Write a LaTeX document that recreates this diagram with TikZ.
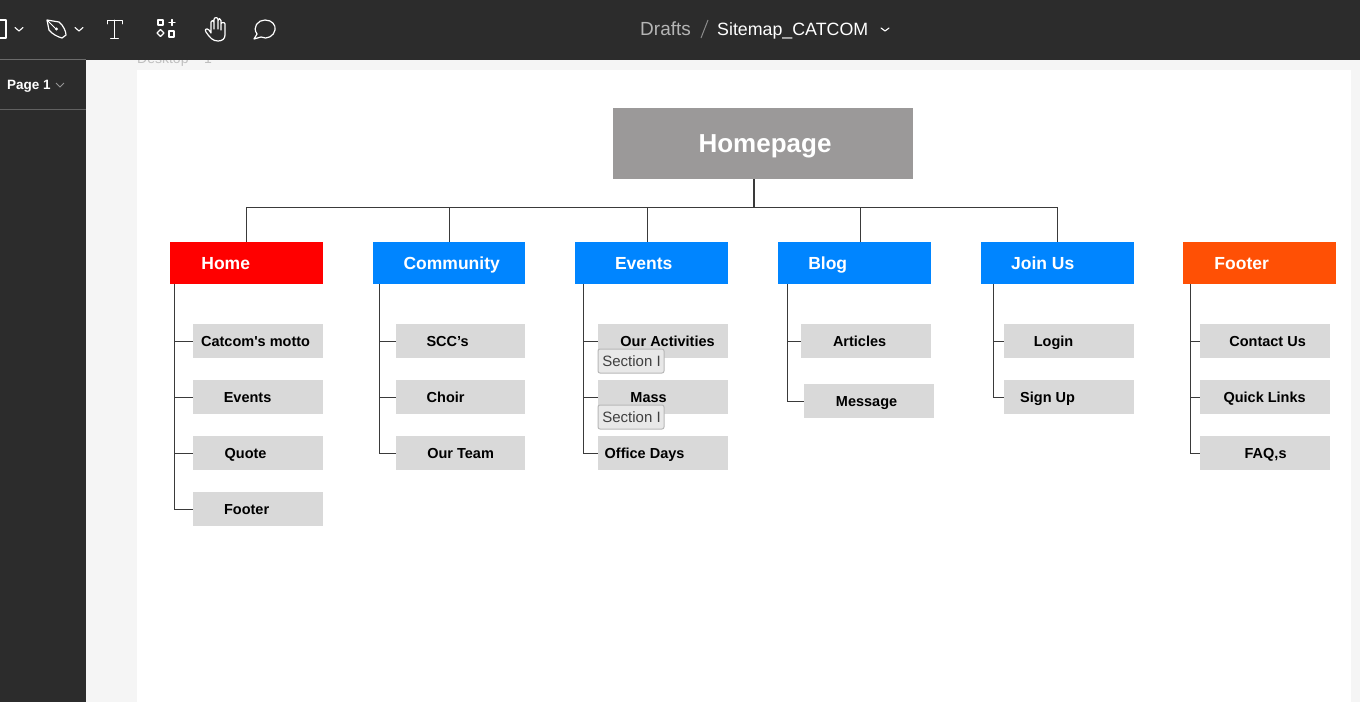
\documentclass[tikz,border=0pt]{standalone}
\usepackage{fontspec}
\setmainfont{Liberation Sans}
\newfontfamily\plainq{Liberation Sans}
\definecolor{chrome}{HTML}{2C2C2C}
\definecolor{canvas}{HTML}{F5F5F5}
\definecolor{topbox}{HTML}{9B9999}
\definecolor{navblue}{HTML}{0085FF}
\definecolor{navred}{HTML}{FF0000}
\definecolor{navorange}{HTML}{FF5005}
\definecolor{subgray}{HTML}{D9D9D9}
\definecolor{chipgray}{HTML}{E8E8E8}
\definecolor{wire}{HTML}{3A3A3A}
\tikzset{
  x=1pt,y=-1pt,
  plainbox/.style={rectangle,inner sep=0pt,outer sep=0pt,draw=none},
  toptext/.style={text=white,font=\fontsize{26}{30}\selectfont\bfseries,inner sep=0pt,yshift=-3pt},
  navtext/.style={text=white,font=\fontsize{17.5}{21}\selectfont\bfseries,inner sep=0pt,yshift=-2pt,xshift=0.7pt},
  subtext/.style={text=black,font=\fontsize{14.5}{18}\selectfont\bfseries,inner sep=0pt,yshift=-1.7pt,xshift=0.6pt},
  chip/.style={rectangle,rounded corners=2pt,draw=black!28,line width=1pt,fill=chipgray,minimum width=66pt,minimum height=24pt,inner sep=0pt,outer sep=0pt},
  chiptext/.style={text=black!75,font=\fontsize{15}{18}\selectfont,inner sep=0pt,yshift=-2pt,xshift=0.5pt},
  wireline/.style={draw=wire,line width=0.8pt},
  icon/.style={draw=white,line width=1.2pt,line join=round,line cap=round},
  uitext/.style={inner sep=0pt,anchor=base west},
}
% name, x1, y1, x2, y2, fill, text style, text x, text
\newcommand{\bx}[9]{%
  \pgfmathsetmacro{\bw}{#4-#2}\pgfmathsetmacro{\bh}{#5-#3}%
  \node[plainbox,fill=#6,minimum width=\bw pt,minimum height=\bh pt] (#1) at ({(#2+#4)/2},{(#3+#5)/2}) {};
  \node[#7] (#1-t) at (#8,{(#3+#5)/2}) {\strut #9};
}
\begin{document}
\begin{tikzpicture}
\useasboundingbox (0,0) rectangle (1360,702);
\fill[canvas] (0,0) rectangle (1360,702);
\fill[white] (137,70) rectangle (1351,702);
\node[uitext,text=black!25,font=\fontsize{14}{16}\selectfont] (desk) at (137,63.5) {Desktop – 1};
% chrome
\fill[chrome] (0,0) rectangle (1360,60);
\fill[chrome] (0,60) rectangle (86,702);
\draw[white!30!chrome,line width=0.7pt] (0,59.7) -- (86,59.7);
\draw[white!25!chrome,line width=0.7pt] (0,109.5) -- (86,109.5);
% toolbar icons
\draw[icon] (-3,20) -- (6,20) -- (6,38) -- (-3,38);
\draw[icon,line width=1.1pt] (15,27.5) -- (19,31) -- (23,27.5);
\draw[icon] (47,20) -- (59,22) .. controls (64,26) and (66,32) .. (66,35) -- (62,38) .. controls (58,37) and (52,34) .. (49,30) -- cycle;
\draw[icon,line width=1pt] (48,21) -- (56,29);
\fill[white] (56.5,29) circle (1.7);
\draw[icon,line width=1.1pt] (75,27.5) -- (79,31) -- (83,27.5);
\draw[icon,line width=0.9pt] (107,24) -- (107,20) -- (122,20) -- (122,24) (114.5,20) -- (114.5,38) (110.5,38) -- (118.5,38);
\draw[icon,line width=1.1pt] (158,20) rectangle (163,25) (172,19.5) -- (172,25.5) (169,22.5) -- (175,22.5) (169,31) rectangle (174,37);
\draw[icon,line width=1.1pt] (157,33) -- (160.5,29.5) -- (164,33) -- (160.5,36.5) -- cycle;
\draw[icon] (206,32) .. controls (204,29) and (207,28) .. (209,30) -- (211,33) -- (211,22) .. controls (211,20) and (214,20) .. (214,22) -- (214,29) -- (214,19.5) .. controls (214,17) and (218,17) .. (218,19.5) -- (218,29) -- (218,20.5) .. controls (218,18) and (221,18) .. (221,20.5) -- (221,30) -- (221,24) .. controls (221,22) and (225,22) .. (225,24) -- (225,35) .. controls (225,39) and (222,41) .. (218,41) .. controls (213,41) and (210,38) .. (206,32) -- cycle;
\draw[icon] (254,39) -- (257,34) .. controls (252,27) and (258,20) .. (265,20) .. controls (272,20) and (276,25) .. (275,30) .. controls (274,36) and (267,40) .. (261,37) -- (254,39) -- cycle;
% header text
\node[uitext,text=white!65!chrome,font=\fontsize{19}{22}\selectfont] (drafts) at (640,35) {Drafts};
\draw[white!45!chrome,line width=1pt] (701,38) -- (708,20);
\node[uitext,text=white,font=\fontsize{17.8}{22}\selectfont] (title) at (717,35) {Sitemap\_CATCOM};
\draw[icon,line width=1.1pt] (881,28) -- (885,31) -- (889,28);
\node[uitext,text=white,font=\fontsize{13.5}{17}\selectfont\bfseries] (page) at (7,89) {Page 1};
\draw[white!50!chrome,line width=0.8pt] (56,83) -- (60,87) -- (64,83);
% top
\bx{hp}{613}{108}{913}{179}{topbox}{toptext}{765}{Homepage}
% nav
\bx{home}{170}{242}{323}{284}{navred}{navtext}{225}{Home}
\bx{comm}{373}{242}{525}{284}{navblue}{navtext}{451}{Community}
\bx{evts}{575}{242}{728}{284}{navblue}{navtext}{643}{Events}
\bx{blog}{778}{242}{931}{284}{navblue}{navtext}{827}{Blog}
\bx{join}{981}{242}{1134}{284}{navblue}{navtext}{1042}{Join Us}
\bx{foot}{1183}{242}{1336}{284}{navorange}{navtext}{1241}{Footer}
% subs
\bx{h1}{193}{324}{323}{358}{subgray}{subtext}{255}{Catcom{\plainq'}s motto}
\bx{h2}{193}{380}{323}{414}{subgray}{subtext}{247}{Events}
\bx{h3}{193}{436}{323}{470}{subgray}{subtext}{245}{Quote}
\bx{h4}{193}{492}{323}{526}{subgray}{subtext}{246}{Footer}
\bx{c1}{396}{324}{525}{358}{subgray}{subtext}{447}{SCC’s}
\bx{c2}{396}{380}{525}{414}{subgray}{subtext}{445}{Choir}
\bx{c3}{396}{436}{525}{470}{subgray}{subtext}{460}{Our Team}
\bx{e1}{598}{324}{728}{358}{subgray}{subtext}{667}{Our Activities}
\bx{e2}{598}{380}{728}{414}{subgray}{subtext}{648}{Mass}
\bx{e3}{598}{436}{728}{470}{subgray}{subtext}{644}{Office Days}
\bx{b1}{801}{324}{931}{358}{subgray}{subtext}{859}{Articles}
\bx{b2}{804}{384}{934}{418}{subgray}{subtext}{866}{Message}
\bx{j1}{1004}{324}{1134}{358}{subgray}{subtext}{1053}{Login}
\bx{j2}{1004}{380}{1134}{414}{subgray}{subtext}{1047}{Sign Up}
\bx{f1}{1200}{324}{1330}{358}{subgray}{subtext}{1267}{Contact Us}
\bx{f2}{1200}{380}{1330}{414}{subgray}{subtext}{1264}{Quick Links}
\bx{f3}{1200}{436}{1330}{470}{subgray}{subtext}{1265}{FAQ,s}
% chips
\node[chip] (s1) at (631,361) {};
\node[chiptext] (s1-t) at (631,361) {\strut Section I};
\node[chip] (s2) at (631,417) {};
\node[chiptext] (s2-t) at (631,417) {\strut Section I};
% connectors
\coordinate (hub) at (754,207);
\draw[wireline,line width=1.3pt] ([xshift=-9pt]hp.south) -- (hub);
\draw[wireline] (hub) -| (home.north);
\draw[wireline] (hub) -| (comm.north);
\draw[wireline] (hub) -| ([xshift=-4.5pt]evts.north);
\draw[wireline] (hub) -| ([xshift=5.5pt]blog.north);
\draw[wireline] (hub) -| (join.north);
% trunks
\draw[wireline] ([xshift=4pt]home.south west) |- (h4.west);
\draw[wireline] ([xshift=4pt]home.south west) |- (h1.west);
\draw[wireline] ([xshift=4pt]home.south west) |- (h2.west);
\draw[wireline] ([xshift=4pt]home.south west) |- (h3.west);
\draw[wireline] ([xshift=6pt]comm.south west) |- (c3.west);
\draw[wireline] ([xshift=6pt]comm.south west) |- (c1.west);
\draw[wireline] ([xshift=6pt]comm.south west) |- (c2.west);
\draw[wireline] ([xshift=8.5pt]evts.south west) |- (e3.west);
\draw[wireline] ([xshift=8.5pt]evts.south west) |- (e1.west);
\draw[wireline] ([xshift=8.5pt]evts.south west) |- (e2.west);
\draw[wireline] ([xshift=9pt]blog.south west) |- (b2.west);
\draw[wireline] ([xshift=9pt]blog.south west) |- (b1.west);
\draw[wireline] ([xshift=12pt]join.south west) |- (j2.west);
\draw[wireline] ([xshift=12pt]join.south west) |- (j1.west);
\draw[wireline] ([xshift=7pt]foot.south west) |- (f3.west);
\draw[wireline] ([xshift=7pt]foot.south west) |- (f1.west);
\draw[wireline] ([xshift=7pt]foot.south west) |- (f2.west);
\end{tikzpicture}
\end{document}
